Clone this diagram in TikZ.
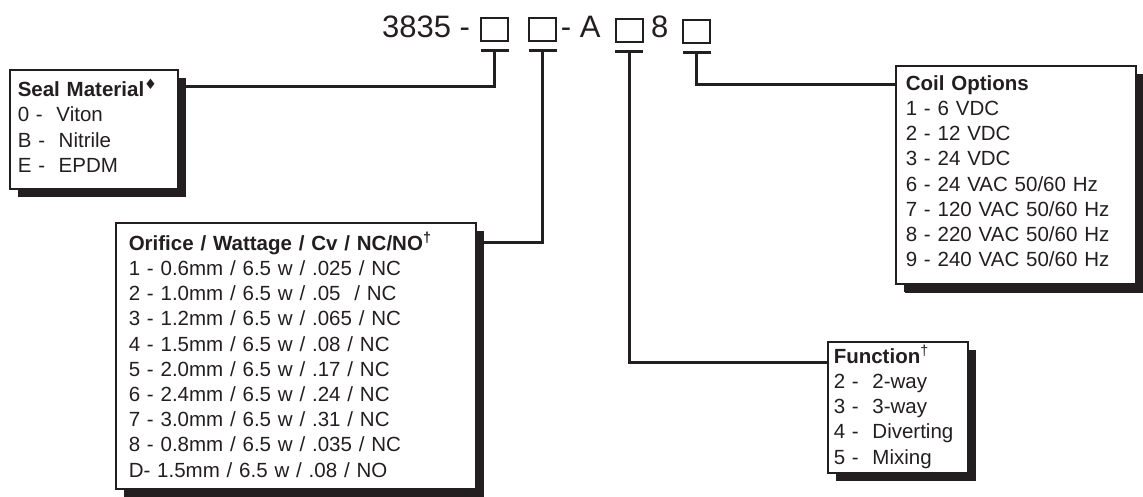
\documentclass[tikz,border=0pt]{standalone}
\usepackage{fontspec}
\setmainfont{Liberation Sans}
\newfontfamily\symfont{DejaVu Sans}
\usetikzlibrary{positioning,shadows}
\definecolor{ink}{RGB}{35,31,32}

\begin{document}
\begin{tikzpicture}[
        x=1pt, y=-1pt,
        every node/.style={text=ink},
        list/.style={draw=ink,line width=1.5pt,fill=white,anchor=north west,align=left,
            inner xsep=8pt,inner ysep=0pt,text height=27pt,
            font=\fontsize{20.5}{25.2}\selectfont,
            drop shadow={shadow xshift=8pt,shadow yshift=-8pt,opacity=1,fill=ink}},
        slot/.style={draw=ink,line width=2pt,minimum width=27pt,minimum height=23pt,inner sep=0pt},
        code/.style={anchor=base west,inner sep=0pt,font=\fontsize{31}{31}\selectfont},
        bar/.style={draw=ink,line width=3pt},
        conn/.style={draw=ink,line width=3pt}
    ]
    \useasboundingbox (0,0) rectangle (1143,496);

    % part number
    \node[code] (num) at (382,37) {3835 -};
    \node[slot] (s1) at (494.5,29.5) {};
    \node[slot] (s2) at (542.5,29.5) {};
    \node[code] (mid) at (560.7,37) {- A};
    \node[slot] (s3) at (629,30.5) {};
    \node[code] (eight) at (651,37) {8};
    \node[slot] (s4) at (696.5,31.5) {};

    \foreach \s in {1,...,4}{
        \coordinate[below=8pt of s\s.south] (t\s);
        \draw[bar] ([xshift=-14pt]t\s) -- ([xshift=14pt]t\s);
    }

    % option lists
    \node[list,text width=152pt,text depth=92pt] (seal) at (9,69)
        {\textbf{Seal Material}\textsuperscript{\symfont ♦}\\0 -\ \ Viton\\B -\ \ Nitrile\\E -\ \ EPDM};
    \node[list,inner xsep=13pt,text width=334pt,text height=27.5pt,text depth=238.5pt] (orifice) at (115,222)
        {\textbf{Orifice / Wattage / Cv / NC/NO\textsuperscript{†}}\\
         1 - 0.6mm / 6.5 w / .025 / NC\\
         2 - 1.0mm / 6.5 w / .05\ \ / NC\\
         3 - 1.2mm / 6.5 w / .065 / NC\\
         4 - 1.5mm / 6.5 w / .08 / NC\\
         5 - 2.0mm / 6.5 w / .17 / NC\\
         6 - 2.4mm / 6.5 w / .24 / NC\\
         7 - 3.0mm / 6.5 w / .31 / NC\\
         8 - 0.8mm / 6.5 w / .035 / NC\\
         D- 1.5mm / 6.5 w / .08 / NO};
    \node[list,inner xsep=10pt,text width=220pt,text height=24.5pt,text depth=193.5pt,
        drop shadow={shadow xshift=9pt,shadow yshift=-9pt,opacity=1,fill=ink}] (coil) at (895,65)
        {\textbf{Coil Options}\\
         1 - 6 VDC\\
         2 - 12 VDC\\
         3 - 24 VDC\\
         6 - 24 VAC 50/60 Hz\\
         7 - 120 VAC 50/60 Hz\\
         8 - 220 VAC 50/60 Hz\\
         9 - 240 VAC 50/60 Hz};
    \node[list,inner xsep=6pt,text width=128pt,text height=21.5pt,text depth=109.5pt] (function) at (827,341)
        {\textbf{Function}\textsuperscript{†}\\2 -\ \ 2-way\\3 -\ \ 3-way\\4 -\ \ Diverting\\5 -\ \ Mixing};

    % leaders
    \draw[conn] (t1) |- ([yshift=-17pt]seal.north east);
    \draw[conn] (t2) |- ([yshift=-20pt]orifice.north east);
    \draw[conn] (t3) |- ([yshift=-21pt]function.north west);
    \draw[conn] (t4) |- ([yshift=-19pt]coil.north west);
\end{tikzpicture}
\end{document}
